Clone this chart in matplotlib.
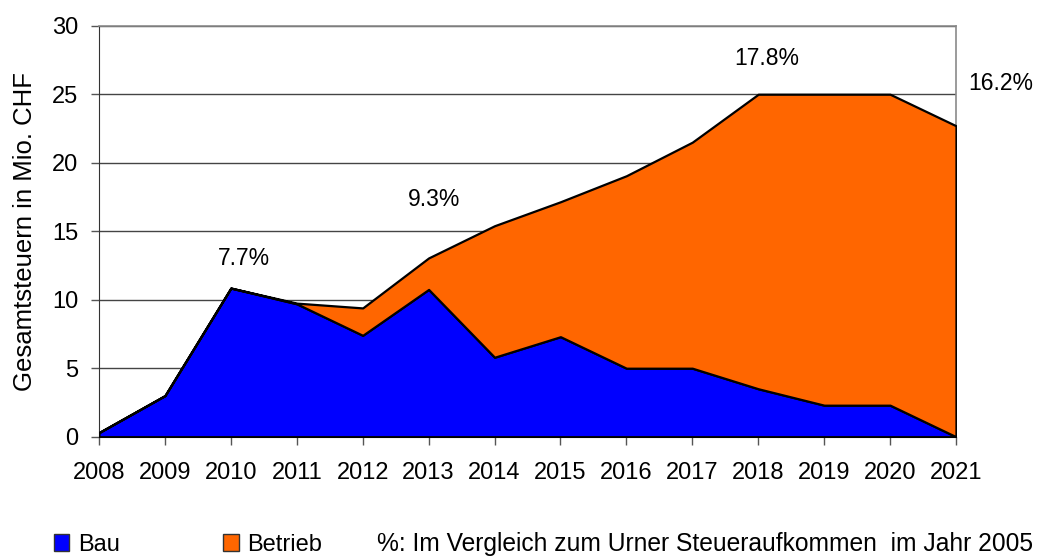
import matplotlib
matplotlib.use('Agg')
import matplotlib.pyplot as plt
from matplotlib.patches import Patch
from matplotlib import font_manager

years = [2008, 2009, 2010, 2011, 2012, 2013, 2014, 2015, 2016, 2017, 2018, 2019, 2020, 2021]
bau = [0.3, 3.0, 10.85, 9.7, 7.4, 10.75, 5.8, 7.3, 5.0, 5.0, 3.5, 2.3, 2.3, 0.0]
betrieb = [0.0, 0.0, 0.0, 0.05, 2.0, 2.3, 9.6, 9.85, 14.05, 16.5, 21.5, 22.7, 22.7, 22.7]

pct_labels = ['7.7%', '9.3%', '17.8%', '16.2%']
pct_x = [2010.2, 2013.08, 2018.13, 2021.18]
pct_y = [13.0, 17.3, 27.6, 25.8]

plt.rcParams['font.family'] = ['Liberation Sans', 'DejaVu Sans']
names = {f.name for f in font_manager.fontManager.ttflist}
narrow = 'Liberation Sans Narrow' if 'Liberation Sans Narrow' in names else 'Liberation Sans'

fig = plt.figure(figsize=(10.39, 5.58), dpi=100)
ax = fig.add_axes([0.0953, 0.2174, 0.8248, 0.7365])

ax.stackplot(years, bau, betrieb, colors=['#0000FF', '#FF6600'],
             edgecolor='black', linewidth=1.6, zorder=3)

ax.set_xlim(2008, 2021)
ax.set_ylim(0, 30)
ax.set_xticks(years)
ax.set_yticks(range(0, 31, 5))
ax.yaxis.grid(True, color='#444444', linewidth=1)
ax.set_axisbelow(True)

for s in ['top', 'right']:
    ax.spines[s].set_color('#8a8a8a')
    ax.spines[s].set_linewidth(1.2)
ax.spines['left'].set_color('#333333')
ax.spines['bottom'].set_color('#333333')
ax.tick_params(axis='y', length=6, width=1, color='#555555', pad=9, labelsize=17)
ax.tick_params(axis='x', length=6, width=1, color='#555555', pad=12, labelsize=17)

ax.set_ylabel('Gesamtsteuern in Mio. CHF', fontsize=18.5)
ax.yaxis.set_label_coords(-0.072, 0.5)

for lab, x, y in zip(pct_labels, pct_x, pct_y):
    ha = 'left' if x > 2021 else 'center'
    ax.text(x, y, lab, ha=ha, va='center', fontsize=16.5, clip_on=False)

handles = [Patch(facecolor='#0000FF', edgecolor='#333333', label='Bau'),
           Patch(facecolor='#FF6600', edgecolor='#333333', label='Betrieb')]
fig.legend(handles=handles, loc='upper left', bbox_to_anchor=(0.052, 0.043),
           ncol=2, frameon=False, fontsize=17, handlelength=0.65,
           handleheight=0.75, handletextpad=0.35, columnspacing=4.4,
           borderpad=0, borderaxespad=0)

fig.text(0.363, 0.047, '%: Im Vergleich zum Urner Steueraufkommen  im Jahr 2005',
         fontsize=17.7, family=narrow, ha='left', va='top')

fig.savefig('out.png', dpi=100)
